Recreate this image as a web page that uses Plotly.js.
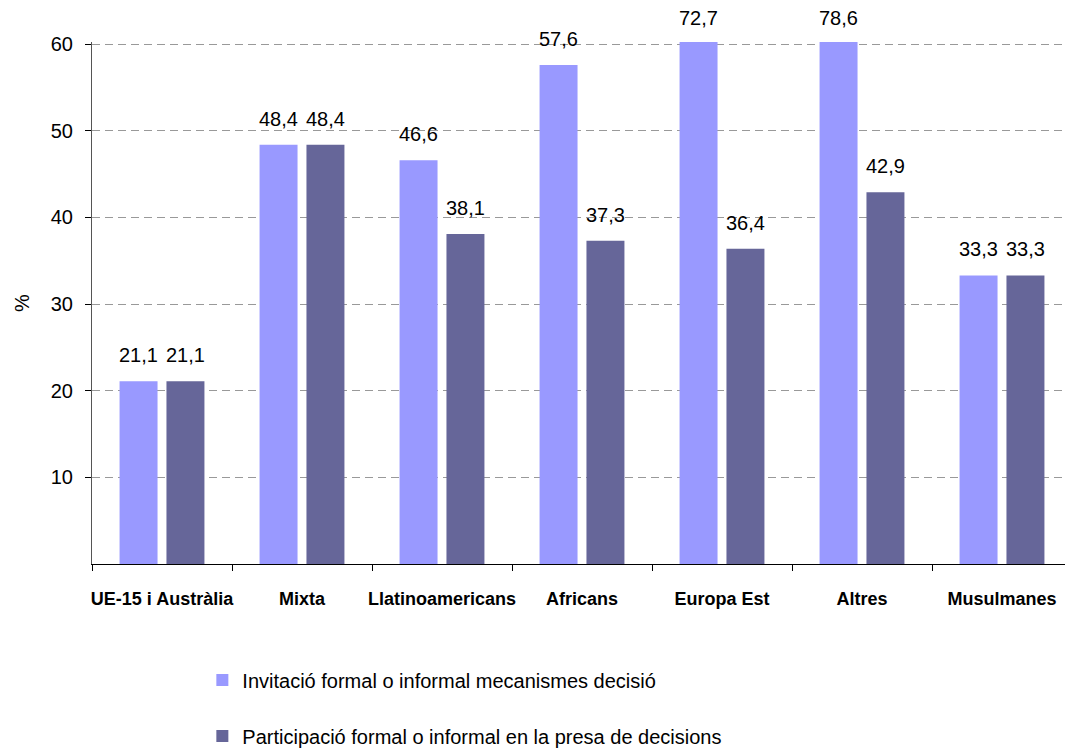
<!DOCTYPE html>
<html>
<head>
<meta charset="utf-8">
<script src="https://cdn.plot.ly/plotly-3.0.1.min.js"></script>
<style>html,body{margin:0;padding:0;overflow:hidden;background:#fff}</style>
</head>
<body>
<div id="chart" style="width:1065px;height:749px"></div>
<script>
const categories = ["UE-15 i Austràlia", "Mixta", "Llatinoamericans", "Africans", "Europa Est", "Altres", "Musulmanes"];
const seriesNames = ["Invitació formal o informal mecanismes decisió", "Participació formal o informal en la presa de decisions"];
const invitacio = [21.1, 48.4, 46.6, 57.6, 72.7, 78.6, 33.3];
const participacio = [21.1, 48.4, 38.1, 37.3, 36.4, 42.9, 33.3];
const yTicks = [10, 20, 30, 40, 50, 60];
const yTitle = "%";
const colors = ["#9999FF", "#666699"];

const FONT = "Liberation Sans, Arial, sans-serif";
const series = [invitacio, participacio];
const yMax = 60;
const offsets = [-0.168, 0.168];

const traces = series.map((vals, s) => ({
  type: "bar",
  x: categories,
  y: vals,
  name: seriesNames[s],
  legendgroup: "g" + s,
  marker: {color: colors[s], line: {width: 0}},
  hoverinfo: "skip"
}));

const annotations = [];
series.forEach((vals, s) => {
  vals.forEach((v, i) => {
    annotations.push({
      xref: "x", yref: "y",
      x: i + offsets[s],
      y: Math.min(v, yMax),
      text: v.toFixed(1).replace(".", ","),
      showarrow: false,
      yanchor: "middle",
      yshift: 26,
      font: {family: FONT, size: 20, color: "#000"}
    });
  });
});
annotations.push({
  xref: "paper", yref: "paper",
  x: -0.072, y: 0.5,
  xanchor: "center", yanchor: "middle",
  text: yTitle, textangle: -90, showarrow: false,
  font: {family: FONT, size: 20, color: "#000"}
});

const layout = {
  width: 1065, height: 749,
  margin: {l: 92, r: 0, t: 42, b: 185, autoexpand: false},
  paper_bgcolor: "#fff", plot_bgcolor: "#fff",
  font: {family: FONT, color: "#000"},
  barmode: "group",
  bargap: 0.33,
  bargroupgap: 0.19,
  showlegend: true,
  legend: {
    orientation: "v",
    xref: "container", yref: "container",
    x: 0.19, y: 0.118, xanchor: "left", yanchor: "top",
    font: {family: FONT, size: 20, color: "#000"},
    tracegroupgap: 27,
    itemwidth: 30,
    bgcolor: "rgba(0,0,0,0)"
  },
  xaxis: {
    type: "category",
    range: [-0.5, 6.45],
    tickson: "boundaries",
    tickangle: 0,
    automargin: false,
    ticks: "outside", ticklen: 6, tickcolor: "#000",
    showline: true, linecolor: "#000", linewidth: 1,
    showgrid: false,
    tickfont: {family: FONT, size: 18, color: "#000", weight: "bold"},
    ticklabelstandoff: 18
  },
  yaxis: {
    range: [0, 60.25],
    tickvals: yTicks,
    automargin: false,
    ticks: "outside", ticklen: 6, tickcolor: "#000",
    showline: true, linecolor: "#555", linewidth: 1,
    showgrid: true, gridcolor: "#999", gridwidth: 1, griddash: "8px,5px",
    zeroline: false,
    tickfont: {family: FONT, size: 20, color: "#000"},
    ticklabelstandoff: 8
  },
  annotations: annotations
};

Plotly.newPlot("chart", traces, layout, {displayModeBar: false, staticPlot: true});
</script>
</body>
</html>
